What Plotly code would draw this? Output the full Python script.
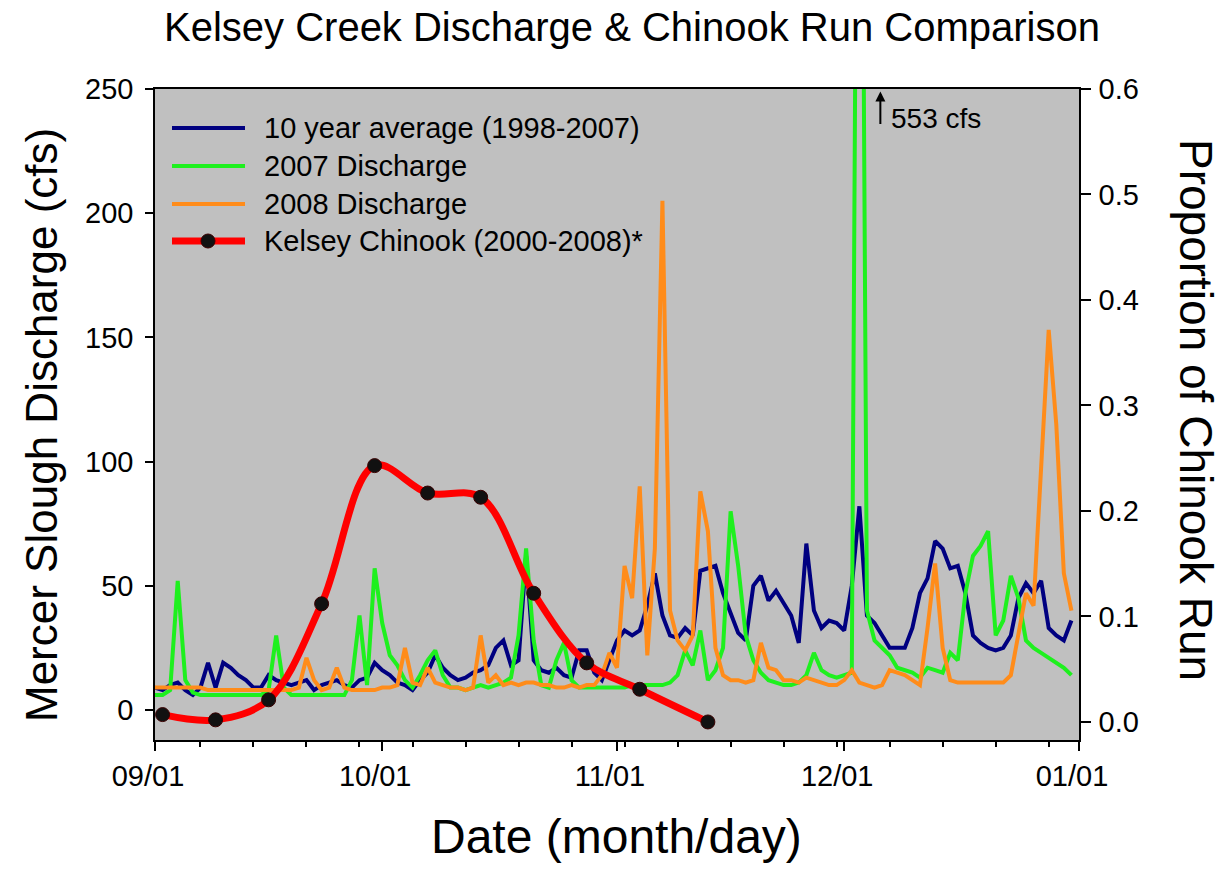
import pandas as pd
import plotly.graph_objects as go

# Daily discharge (cfs), 1 Sep through 31 Dec
start_date = "2008-09-01"
n_days = 122

avg_1998_2007 = [
    9, 8, 10, 11, 8, 6, 9, 19, 9, 19,
    17, 14, 12, 9, 9, 14, 12, 11, 10, 11,
    12, 8, 10, 11, 12, 10, 9, 12, 13, 19,
    16, 14, 11, 10, 8, 12, 15, 22, 17, 14,
    12, 13, 15, 16, 18, 25, 28, 18, 20, 62,
    20, 16, 15, 17, 14, 13, 24, 24, 15, 12,
    20, 28, 32, 30, 32, 42, 55, 38, 30, 29,
    33, 30, 56, 57, 58, 47, 39, 31, 28, 50,
    54, 44, 48, 43, 38, 27, 67, 40, 33, 36,
    35, 32, 50, 82, 38, 35, 30, 25, 25, 25,
    33, 47, 53, 68, 65, 57, 58, 47, 30, 27,
    25, 24, 25, 30, 45, 51, 47, 52, 33, 30,
    28, 36,
]

discharge_2007 = [
    6, 6, 8, 52, 12, 7, 6, 6, 6, 6,
    6, 6, 6, 6, 6, 8, 30, 9, 6, 6,
    6, 6, 6, 6, 6, 6, 12, 38, 10, 57,
    35, 22, 18, 12, 9, 14, 20, 24, 14, 9,
    9, 8, 9, 10, 9, 10, 11, 13, 30, 65,
    28, 10, 9, 20, 27, 12, 9, 9, 9, 9,
    9, 9, 9, 10, 10, 10, 10, 10, 11, 14,
    24, 18, 32, 12, 16, 25, 80, 58, 30, 20,
    15, 12, 11, 10, 10, 11, 14, 23, 16, 14,
    13, 14, 15, 553, 40, 28, 25, 22, 17, 16,
    15, 13, 17, 16, 15, 23, 20, 47, 62, 66,
    72, 30, 36, 54, 45, 28, 25, 23, 21, 19,
    17, 14,
]

discharge_2008 = [
    9, 9, 9, 9, 9, 9, 9, 8, 8, 8,
    8, 8, 8, 8, 8, 8, 8, 8, 8, 9,
    21, 12, 8, 9, 17, 9, 8, 8, 8, 8,
    9, 9, 10, 25, 11, 10, 17, 11, 10, 9,
    9, 8, 9, 30, 11, 14, 10, 11, 10, 11,
    11, 10, 10, 9, 9, 10, 9, 10, 10, 14,
    23, 17, 58, 45, 90, 22, 65, 205, 40, 28,
    24, 30, 88, 72, 25, 14, 12, 12, 11, 12,
    27, 17, 16, 12, 12, 11, 13, 12, 11, 10,
    10, 12, 16, 11, 10, 9, 10, 16, 15, 14,
    12, 10, 33, 59, 25, 12, 11, 11, 11, 11,
    11, 11, 11, 14, 30, 47, 42, 98, 153, 115,
    55, 40,
]

# Weekly proportion of the Kelsey Chinook run (2000-2008)
chinook_day_offsets = [1, 8, 15, 22, 29, 36, 43, 50, 57, 64, 73]
chinook_proportion = [0.007, 0.002, 0.021, 0.112, 0.243, 0.217, 0.213,
                      0.122, 0.056, 0.031, 0.0]

month_ticks = ["2008-09-01", "2008-10-01", "2008-11-01", "2008-12-01", "2009-01-01"]
month_labels = ["09/01", "10/01", "11/01", "12/01", "01/01"]

peak_label = "553 cfs"
peak_value = max(discharge_2007)

series_names = ["10 year average (1998-2007)", "2007 Discharge",
                "2008 Discharge", "Kelsey Chinook (2000-2008)*"]
series_colors = ["#000080", "#1EF01E", "#FF8C1A", "#FF0000"]

dates = pd.date_range(start_date, periods=n_days, freq="D")
chinook_dates = [pd.Timestamp(start_date) + pd.Timedelta(days=d) for d in chinook_day_offsets]
peak_date = dates[discharge_2007.index(peak_value)]

FONT = "Arial, Liberation Sans, sans-serif"
W, H = 1224, 869
L, R, T, B = 155, 145, 89, 129
PW, PH = W - L - R, H - T - B


def px_x(x):
    return (x - L) / PW


def px_y(y):
    return (H - B - y) / PH


fig = go.Figure()
for vals, name, color in zip([avg_1998_2007, discharge_2007, discharge_2008],
                             series_names[:3], series_colors[:3]):
    fig.add_trace(go.Scatter(x=dates, y=vals, mode="lines", name=name,
                             line=dict(color=color, width=4), showlegend=False))

fig.add_trace(go.Scatter(
    x=chinook_dates, y=chinook_proportion, yaxis="y2", mode="lines+markers",
    name=series_names[3], showlegend=False,
    line=dict(color=series_colors[3], width=7, shape="spline", smoothing=1.0),
    marker=dict(color="#111111", size=14, line=dict(color="#3a0000", width=1)),
))

axis_common = dict(showgrid=False, zeroline=False, showline=True, linecolor="black",
                   linewidth=1.5, ticks="outside", tickcolor="black", tickwidth=1.5,
                   tickfont=dict(family=FONT, size=29, color="black"))

fig.update_layout(
    width=W, height=H,
    margin=dict(l=L, r=R, t=T, b=B),
    paper_bgcolor="white", plot_bgcolor="#C0C0C0",
    showlegend=False,
    title=dict(text="Kelsey Creek Discharge &amp; Chinook Run Comparison",
               font=dict(family=FONT, size=40, color="black"),
               x=632 / W, xanchor="center", xref="container",
               y=1 - 27 / H, yanchor="middle", yref="container"),
    xaxis=dict(**axis_common, type="date", range=["2008-09-01", "2009-01-01"],
               tickvals=month_ticks, ticktext=month_labels, ticklen=9, mirror=True,
               ticklabelshift=-7,
               minor=dict(dtick=7 * 86400000, tick0="2008-09-07", ticks="outside",
                          ticklen=5, tickcolor="black", tickwidth=1.5, showgrid=False)),
    yaxis=dict(**axis_common, range=[-12.1, 250], tickvals=[0, 50, 100, 150, 200, 250],
               ticklen=8, ticklabelstandoff=6),
    yaxis2=dict(**axis_common, overlaying="y", side="right", range=[-0.0171, 0.6],
                tickvals=[0, 0.1, 0.2, 0.3, 0.4, 0.5, 0.6], tickformat=".1f",
                ticklen=10, ticklabelstandoff=2),
)

annotations = [
    dict(text="Mercer Slough Discharge (cfs)", x=px_x(41), y=px_y(425), xref="paper",
         yref="paper", textangle=-90, showarrow=False, xanchor="center", yanchor="middle",
         font=dict(family=FONT, size=44, color="black")),
    dict(text="Proportion of Chinook Run", x=px_x(1196), y=px_y(410), xref="paper",
         yref="paper", textangle=90, showarrow=False, xanchor="center", yanchor="middle",
         font=dict(family=FONT, size=46, color="black")),
    dict(text="Date (month/day)", x=px_x(616), y=px_y(836), xref="paper", yref="paper",
         showarrow=False, xanchor="center", yanchor="middle",
         font=dict(family=FONT, size=48, color="black")),
    # arrow pointing to the off-scale 2007 peak
    dict(x=peak_date, y=249, xref="x", yref="y", xshift=21, ax=0, ay=34,
         showarrow=True, arrowhead=2, arrowsize=1, arrowwidth=2, arrowcolor="black", text=""),
    dict(text=peak_label, x=peak_date, xshift=30, y=px_y(118), xref="x",
         yref="paper", showarrow=False, xanchor="left", yanchor="middle",
         font=dict(family=FONT, size=28, color="black")),
]

# legend entries
legend_rows = [128, 166, 204, 241]
shapes = []
for row_y, name, color in zip(legend_rows, series_names, series_colors):
    shapes.append(dict(type="line", xref="paper", yref="paper",
                       x0=px_x(172), x1=px_x(245), y0=px_y(row_y), y1=px_y(row_y),
                       line=dict(color=color, width=7 if color == "#FF0000" else 4)))
    annotations.append(dict(text=name, x=px_x(262), y=px_y(row_y), xref="paper",
                            yref="paper", showarrow=False, xanchor="left",
                            yanchor="middle", font=dict(family=FONT, size=29, color="black")))
shapes.append(dict(type="circle", xref="paper", yref="paper", xsizemode="pixel",
                   ysizemode="pixel", xanchor=px_x(208), yanchor=px_y(legend_rows[3]),
                   x0=-7, x1=7, y0=-7, y1=7, fillcolor="#111111",
                   line=dict(color="#3a0000", width=1)))

fig.update_layout(annotations=annotations, shapes=shapes)
fig.write_html("out.html")
